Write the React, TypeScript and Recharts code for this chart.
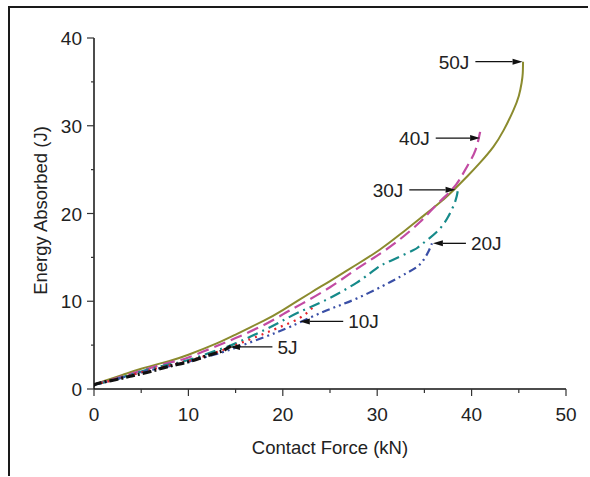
import { LineChart, Line, XAxis, YAxis, ReferenceLine, Label } from 'recharts';

// impact energy levels, contact force (kN) vs energy absorbed (J)
const force50 = [0, 1, 3, 5, 8, 10, 13, 15, 18, 20, 23, 25, 28, 30.3, 32.4, 34.5, 36.7, 38.4, 39.6, 40.9, 42.3, 43.4, 44.4, 45.0, 45.3, 45.42, 45.45];
const energy50 = [0.5, 0.9, 1.6, 2.3, 3.2, 3.9, 5.2, 6.2, 7.8, 9.0, 11.0, 12.3, 14.3, 15.9, 17.6, 19.4, 21.3, 23.0, 24.3, 25.8, 27.6, 29.5, 31.7, 33.4, 34.9, 36.0, 37.3];

const force40 = [0, 2, 5, 8, 10, 13, 15, 18, 20, 22, 25, 28, 30, 32.1, 34.5, 36.3, 37.9, 38.8, 39.6, 40.4, 40.9];
const energy40 = [0.5, 1.1, 2.1, 3.0, 3.6, 4.9, 5.8, 7.3, 8.5, 9.7, 11.6, 13.8, 15.2, 16.8, 19.0, 21.0, 22.7, 24.0, 25.5, 27.2, 29.3];

const force30 = [0, 2, 5, 8, 10, 13, 15, 18, 20, 22, 24.3, 27.8, 30, 31.4, 33.8, 34.5, 36.3, 37.5, 38.3, 38.6];
const energy30 = [0.5, 1.0, 2.0, 2.8, 3.3, 4.4, 5.2, 6.7, 7.8, 8.9, 10.0, 12.1, 13.8, 14.6, 15.8, 16.3, 17.9, 19.6, 21.5, 23.1];

const force20 = [0, 2, 5, 8, 10, 13, 15, 18, 20.8, 24.3, 27.8, 31.4, 33.1, 34.2, 34.9, 35.4, 35.8];
const energy20 = [0.5, 1.0, 1.9, 2.6, 3.1, 4.0, 4.7, 5.9, 7.1, 8.8, 10.3, 12.2, 13.2, 13.9, 14.7, 15.6, 16.6];

const force10 = [0, 2, 5, 8, 10, 13, 15, 18, 20, 21.8, 23.2];
const energy10 = [0.5, 1.0, 1.9, 2.7, 3.2, 4.2, 5.0, 6.3, 7.2, 8.1, 9.3];

const force5 = [0.1, 0.3, 2, 4, 6, 8, 10, 12, 13.5, 14.5];
const energy5 = [0.3, 0.6, 1.0, 1.5, 2.0, 2.6, 3.1, 3.8, 4.3, 4.9];

const xTicks = [0, 5, 10, 15, 20, 25, 30, 35, 40, 45, 50];
const yTicks = [0, 5, 10, 15, 20, 25, 30, 35, 40];

const annoLabels = ['50J', '40J', '30J', '20J', '10J', '5J'];
const annoTail = [40.4, 36.2, 33.4, 39.4, 26.4, 18.9];
const annoHead = [45.4, 40.9, 38.3, 35.9, 21.8, 14.4];
const annoY = [37.3, 28.6, 22.7, 16.6, 7.7, 4.8];

const FONT = '"Liberation Sans", Arial, sans-serif';
const TEXT = '#222';
const AXIS = '#333';
const FS = 19;

const toRows = (f: number[], e: number[]) => f.map((v, i) => ({ f: v, e: e[i] }));

const series = [
  { key: '50J', data: toRows(force50, energy50), color: '#8b8b2e', dash: undefined, width: 2 },
  { key: '40J', data: toRows(force40, energy40), color: '#c24ba3', dash: '12 6', width: 2.2 },
  { key: '30J', data: toRows(force30, energy30), color: '#168a8a', dash: '11 5 2 5', width: 2.2 },
  { key: '20J', data: toRows(force20, energy20), color: '#3a4fa6', dash: '8 4 2 4 2 4', width: 2.2 },
  { key: '10J', data: toRows(force10, energy10), color: '#e5232a', dash: '2 5', width: 2.2 },
  { key: '5J', data: toRows(force5, energy5), color: '#111', dash: '9 3 2 3', width: 3.2 },
];

const LeftTick = (props: any) => {
  const { x, y, payload } = props;
  const major = payload.value % 10 === 0;
  return (
    <g>
      <line x1={x - (major ? 7 : 3)} x2={x} y1={y} y2={y} stroke={AXIS} strokeWidth={1.2} />
      {major && (
        <text x={x - 12} y={y + 7} textAnchor="end" fontSize={FS} fontFamily={FONT} fill={TEXT}>
          {payload.value}
        </text>
      )}
    </g>
  );
};

const BottomTick = (props: any) => {
  const { x, y, payload } = props;
  const major = payload.value % 10 === 0;
  return (
    <g>
      <line x1={x} x2={x} y1={y} y2={y + (major ? 7 : 4)} stroke={AXIS} strokeWidth={1.2} />
      {major && (
        <text x={x} y={y + 32} textAnchor="middle" fontSize={FS} fontFamily={FONT} fill={TEXT}>
          {payload.value}
        </text>
      )}
    </g>
  );
};

const TopTick = (props: any) => {
  const { x, y } = props;
  return <line x1={x} x2={x} y1={y} y2={y + 2} stroke="#555" strokeWidth={1.2} />;
};

const RightTick = (props: any) => {
  const { x, y } = props;
  return <line x1={x} x2={x + 2} y1={y} y2={y} stroke="#555" strokeWidth={1.2} />;
};

const arrowShape = (label: string) => (props: any) => {
  const { x1, y1, x2, y2 } = props;
  if (x1 == null || x2 == null) return <g />;
  const dir = x2 > x1 ? 1 : -1;
  const len = 10;
  return (
    <g>
      <line x1={x1} y1={y1} x2={x2 - dir * len} y2={y2} stroke="#111" strokeWidth={1.3} />
      <polygon
        points={`${x2},${y2} ${x2 - dir * len},${y2 - 3} ${x2 - dir * len},${y2 + 3}`}
        fill="#111"
      />
      <text
        x={dir > 0 ? x1 - 6 : x1 + 5}
        y={y1 + 7}
        textAnchor={dir > 0 ? 'end' : 'start'}
        fontSize={FS}
        fontFamily={FONT}
        fill={TEXT}
      >
        {label}
      </text>
    </g>
  );
};

export default function App() {
  return (
    <div style={{ position: 'absolute', left: 0, top: 0, width: 590, height: 477, overflow: 'hidden', background: '#fff' }}>
      <div
        style={{
          position: 'absolute',
          left: 8,
          top: 6,
          width: 578,
          height: 468,
          borderLeft: '2.5px solid #1a1a1a',
          borderTop: '2.5px solid #1a1a1a',
        }}
      />
      <LineChart width={590} height={477} margin={{ top: 38, right: 24, bottom: 18, left: 34 }}>
        <XAxis
          dataKey="f"
          type="number"
          domain={[0, 50]}
          ticks={xTicks}
          allowDataOverflow
          interval={0}
          height={70}
          tickSize={0}
          tickMargin={0}
          tickLine={false}
          tick={BottomTick}
          axisLine={{ stroke: '#111', strokeWidth: 1.5 }}
        >
          <Label
            content={({ viewBox }: any) => (
              <text
                x={viewBox.x + viewBox.width / 2}
                y={viewBox.y + 65}
                textAnchor="middle"
                fontSize={18.5}
                fontFamily={FONT}
                fill={TEXT}
              >
                Contact Force (kN)
              </text>
            )}
          />
        </XAxis>
        <XAxis
          xAxisId="top"
          orientation="top"
          dataKey="f"
          type="number"
          domain={[0, 50]}
          ticks={xTicks}
          allowDataOverflow
          interval={0}
          height={0}
          tickSize={0}
          tickMargin={0}
          tickLine={false}
          tick={TopTick}
          axisLine={{ stroke: '#555', strokeWidth: 1.3 }}
        />
        <YAxis
          type="number"
          domain={[0, 40]}
          ticks={yTicks}
          allowDataOverflow
          interval={0}
          width={60}
          tickSize={0}
          tickMargin={0}
          tickLine={false}
          tick={LeftTick}
          axisLine={{ stroke: '#111', strokeWidth: 1.5 }}
        >
          <Label
            content={({ viewBox }: any) => {
              const cx = 47;
              const cy = viewBox.y + viewBox.height / 2 - 3;
              return (
                <text
                  x={cx}
                  y={cy}
                  transform={`rotate(-90 ${cx} ${cy})`}
                  textAnchor="middle"
                  fontSize={18.5}
                  fontFamily={FONT}
                  fill={TEXT}
                >
                  Energy Absorbed (J)
                </text>
              );
            }}
          />
        </YAxis>
        <YAxis
          yAxisId="right"
          orientation="right"
          type="number"
          domain={[0, 40]}
          ticks={yTicks}
          allowDataOverflow
          interval={0}
          width={0}
          tickSize={0}
          tickMargin={0}
          tickLine={false}
          tick={RightTick}
          axisLine={{ stroke: '#555', strokeWidth: 1.3 }}
        />
        {series.map((s) => (
          <Line
            key={s.key}
            data={s.data}
            dataKey="e"
            type="natural"
            stroke={s.color}
            strokeWidth={s.width}
            strokeDasharray={s.dash}
            dot={false}
            activeDot={false}
            isAnimationActive={false}
          />
        ))}
        {annoLabels.map((label, i) => (
          <ReferenceLine
            key={label}
            segment={[
              { x: annoTail[i], y: annoY[i] },
              { x: annoHead[i], y: annoY[i] },
            ]}
            shape={arrowShape(label)}
          />
        ))}
      </LineChart>
    </div>
  );
}
